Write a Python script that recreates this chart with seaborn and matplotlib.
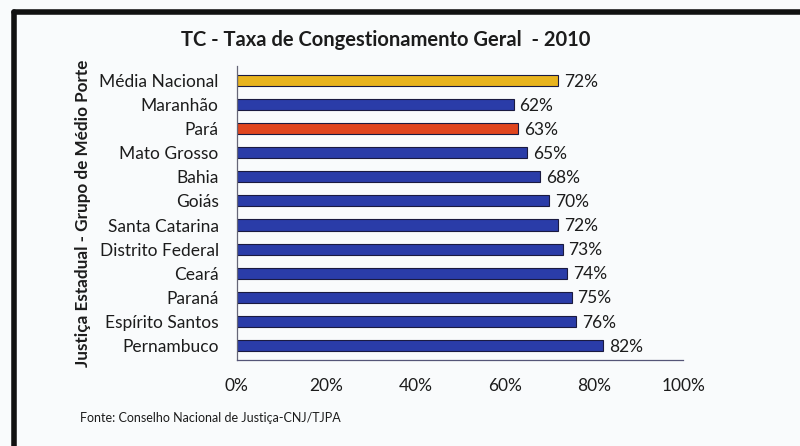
import matplotlib
matplotlib.use("Agg")
import matplotlib.pyplot as plt
import seaborn as sns
import pandas as pd

categories = ["Média Nacional", "Maranhão", "Pará", "Mato Grosso", "Bahia", "Goiás",
              "Santa Catarina", "Distrito Federal", "Ceará", "Paraná",
              "Espírito Santos", "Pernambuco"]
values = [72, 62, 63, 65, 68, 70, 72, 73, 74, 75, 76, 82]
tick_values = [0, 20, 40, 60, 80, 100]
tick_labels = ["0%", "20%", "40%", "60%", "80%", "100%"]

title = "TC - Taxa de Congestionamento Geral  - 2010"
ylabel = "Justiça Estadual - Grupo de Médio Porte"
source = "Fonte: Conselho Nacional de Justiça-CNJ/TJPA"

blue = "#2A3CA8"
colors = {c: blue for c in categories}
colors["Média Nacional"] = "#E8B41E"
colors["Pará"] = "#E0451E"

df = pd.DataFrame({"estado": categories, "valor": values})

sns.set_theme(style="white")
plt.rcParams["font.family"] = ["Lato", "DejaVu Sans"]

bg = "#F9FBFC"
txt = "#1c1c1c"
fig = plt.figure(figsize=(8, 4.46), dpi=100, facecolor=bg)
ax = fig.add_axes([0.296, 0.193, 0.558, 0.659])
ax.set_facecolor(bg)

sns.barplot(data=df, y="estado", x="valor", hue="estado", palette=colors,
            order=categories, hue_order=categories, legend=False, saturation=1,
            width=0.46, edgecolor="#1a1a40", linewidth=0.8, ax=ax, orient="h")

for i, v in enumerate(values):
    ax.text(v + 1.3, i + 0.05, f"{v}%", va="center", ha="left",
            fontsize=12.5, color=txt)

ax.set_xlim(0, 100)
ax.set_ylim(11.6, -0.6)
ax.set_xticks(tick_values)
ax.set_xticklabels(tick_labels, fontsize=12.5, color=txt)
ax.tick_params(axis="x", direction="out", length=6, width=0.8, color="#555577", pad=7)
ax.tick_params(axis="y", length=0, pad=13, labelsize=12.5, labelcolor=txt)
ax.set_xlabel("")
ax.set_ylabel(ylabel, fontsize=12.3, fontweight="bold", color=txt, labelpad=6)
for s in ["top", "right"]:
    ax.spines[s].set_visible(False)
ax.spines["left"].set_color("#666677")
ax.spines["bottom"].set_color("#555577")
ax.spines["left"].set_linewidth(0.9)
ax.spines["bottom"].set_linewidth(0.9)

fig.text(0.482, 0.91, title, ha="center", va="center", fontsize=14.5,
         fontweight="bold", color=txt)
fig.text(0.1, 0.063, source, ha="left", va="center", fontsize=9, color=txt)

# black frame lines (top and left)
fig.add_artist(plt.Line2D([0.018, 1.0], [0.973, 0.973], transform=fig.transFigure,
                          color="#111111", linewidth=4))
fig.add_artist(plt.Line2D([0.018, 0.018], [0.0, 0.973], transform=fig.transFigure,
                          color="#111111", linewidth=4))

fig.savefig("out.png", dpi=100, facecolor=bg)
